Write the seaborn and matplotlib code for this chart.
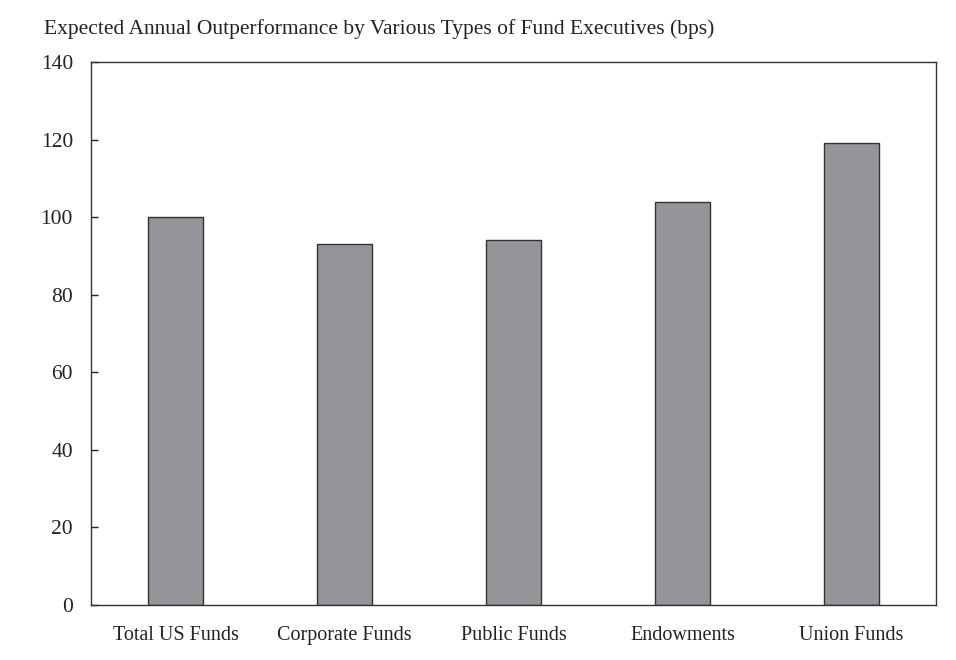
import matplotlib
matplotlib.use("Agg")
import matplotlib.pyplot as plt
import pandas as pd
import seaborn as sns

# Data
categories = ["Total US Funds", "Corporate Funds", "Public Funds", "Endowments", "Union Funds"]
values = [100, 93, 94, 104, 119]

df = pd.DataFrame({"fund": categories, "bps": values})

sns.set_style("white")
plt.rcParams['font.family'] = ['Liberation Serif', 'DejaVu Serif']

fig = plt.figure(figsize=(9.56, 6.6), dpi=100)
ax = fig.add_axes([0.0952, 0.0833, 0.8839, 0.8227])

sns.barplot(data=df, x="fund", y="bps", ax=ax, color="#959599",
            width=0.33, edgecolor="#333333", linewidth=1.0, saturation=1)

ax.set_xlim(-0.5, 4.5)
ax.set_ylim(0, 140)
ax.set_yticks(range(0, 141, 20))
ax.set_xlabel("")
ax.set_ylabel("")

# ticks: inward on y axis, none on x axis
ax.tick_params(axis="y", direction="in", length=5, width=1, colors="#222222",
               labelsize=15.5, pad=13, left=True)
ax.tick_params(axis="x", length=0, labelsize=14.5, pad=15, colors="#222222")

for s in ax.spines.values():
    s.set_color("#333333")
    s.set_linewidth(1.0)

fig.text(0.046, 0.948, "Expected Annual Outperformance by Various Types of Fund Executives (bps)",
         fontsize=15.5, color="#222222", ha="left", va="baseline")

fig.savefig("out.png", dpi=100)
